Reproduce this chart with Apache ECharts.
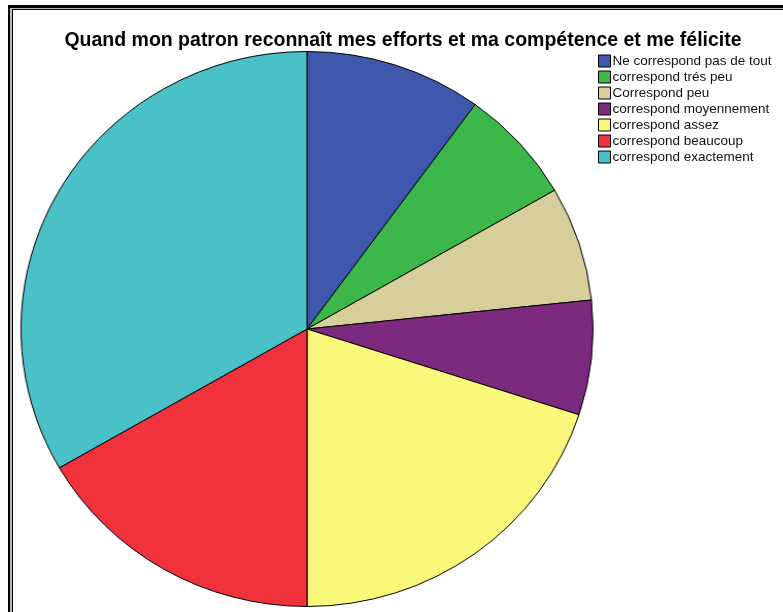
<!DOCTYPE html>
<html>
<head>
<meta charset="utf-8">
<script src="https://cdn.jsdelivr.net/npm/echarts@6/dist/echarts.min.js"></script>
<style>
  html, body { margin: 0; padding: 0; background: #fff; overflow: hidden; }
  #frame {
    position: absolute; left: 8px; top: 5px; width: 800px; height: 640px;
    border-left: 2px solid #000; border-top: 3px solid #000;
  }
  #frame2 {
    position: absolute; left: 12px; top: 9px; width: 800px; height: 640px;
    border-left: 1px solid #000; border-top: 1px solid #000;
  }
  #gap {
    position: absolute; left: 10px; top: 8px; width: 800px; height: 640px;
    border-left: 2px solid #b8b8b8; border-top: 1px solid #b8b8b8;
  }
  #chart { position: absolute; left: 0; top: 0; width: 783px; height: 612px; }
  /* the pie is drawn slightly wider than tall */
  #pie {
    position: absolute; left: 0; top: 0; width: 783px; height: 612px;
    transform-origin: 307px 329px; transform: scaleX(1.0306);
  }
</style>
</head>
<body>
<div id="frame"></div>
<div id="gap"></div>
<div id="frame2"></div>
<div id="pie"></div>
<div id="chart"></div>
<script>
// Response categories and counts
const categories = [
  'Ne correspond pas de tout',
  'correspond trés peu',
  'Correspond peu',
  'correspond moyennement',
  'correspond assez',
  'correspond beaucoup',
  'correspond exactement'
];
const counts = [3, 2, 2, 2, 6, 5, 10];
const palette = ['#3f58ad', '#3cb74a', '#d6cf9c', '#7c2a7e', '#f9f87a', '#ef323c', '#4ac1c7'];

const pieData = categories.map((c, i) => ({ name: c, value: counts[i], itemStyle: { color: palette[i] } }));

// Pie slices
const pie = echarts.init(document.getElementById('pie'), null, { renderer: 'canvas' });
pie.setOption({
  animation: false,
  series: [{
    type: 'pie',
    center: [307, 329],
    radius: 277.5,
    startAngle: 90,
    clockwise: true,
    label: { show: false },
    labelLine: { show: false },
    emphasis: { disabled: true },
    itemStyle: { borderColor: '#000', borderWidth: 1 },
    data: pieData
  }]
});

// Title and legend (legend keyed to a zero-size copy of the same data)
const chart = echarts.init(document.getElementById('chart'), null, { renderer: 'canvas' });
chart.setOption({
  animation: false,
  backgroundColor: 'transparent',
  title: {
    text: 'Quand mon patron reconnaît mes efforts et ma compétence et me félicite',
    left: 398, top: 26, textAlign: 'center',
    textStyle: { fontFamily: 'Liberation Sans, Arial, sans-serif', fontSize: 19.5, fontWeight: 'bold', color: '#000' }
  },
  legend: {
    orient: 'vertical', left: 598, top: 53, padding: 0,
    itemWidth: 12, itemHeight: 12, itemGap: 0, icon: 'rect',
    itemStyle: { borderColor: '#000', borderWidth: 1, opacity: 1 },
    textStyle: { fontFamily: 'Liberation Sans, Arial, sans-serif', fontSize: 13.5, lineHeight: 16, color: '#111', padding: [0, 0, 0, -3] },
    data: categories
  },
  series: [{
    type: 'pie',
    radius: 0,
    center: [-100, -100],
    silent: true,
    label: { show: false },
    labelLine: { show: false },
    data: pieData
  }]
});
</script>
</body>
</html>
